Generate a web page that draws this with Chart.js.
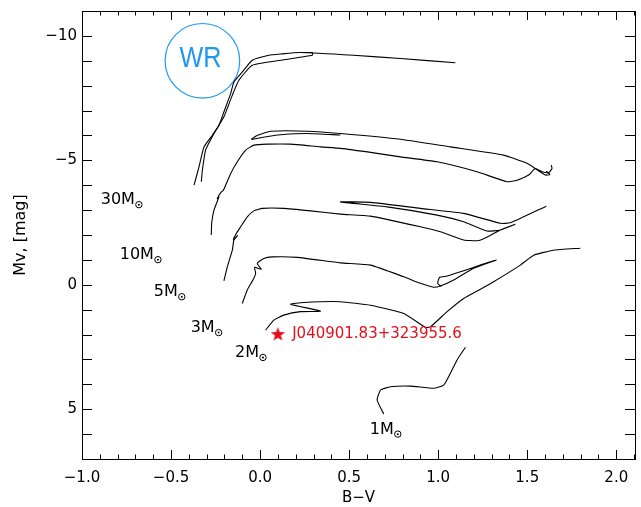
<!DOCTYPE html>
<html>
<head>
<meta charset="utf-8">
<script src="https://cdn.jsdelivr.net/npm/chart.js@4.4.0/dist/chart.umd.min.js"></script>
<style>
  html, body { margin: 0; padding: 0; background: #fff; }
</style>
</head>
<body>
<canvas id="hrChart" width="641" height="507"></canvas>
<script>
// Evolutionary tracks: B-V colour and absolute magnitude Mv
const track30aBV = [-0.371, -0.343, -0.315, -0.268, -0.231, -0.203, -0.165, -0.147, -0.100, -0.044, 0.049, 0.115, 0.227, 0.524, 0.788, 1.096];
const track30aMv = [-4.00, -4.74, -5.54, -6.01, -6.41, -6.95, -7.69, -8.15, -8.55, -9.02, -9.22, -9.27, -9.33, -9.22, -9.09, -8.92];
const track30bBV = [-0.330, -0.324, -0.306, -0.259, -0.203, -0.156, -0.119, -0.044, 0.115, 0.293, 0.294, 0.227];
const track30bMv = [-4.14, -4.61, -5.41, -6.08, -6.75, -7.62, -8.22, -8.82, -9.02, -9.22, -9.33, -9.33];

const track10aBV = [-0.274, -0.272, -0.259, -0.231, -0.241, -0.219, -0.206, -0.165, -0.128, -0.081, -0.035, 0.040, 0.171, 0.339, 0.451, 0.638, 0.788, 0.994, 1.218, 1.386, 1.443, 1.508, 1.545, 1.583, 1.620, 1.639, 1.635];
const track10aMv = [-2.00, -2.47, -3.00, -3.53, -3.46, -3.72, -3.80, -4.47, -4.94, -5.41, -5.61, -5.65, -5.65, -5.54, -5.48, -5.30, -5.14, -4.94, -4.54, -4.14, -4.20, -4.41, -4.67, -4.54, -4.50, -4.67, -4.81];
const track10bBV = [-0.049, -0.025, 0.003, 0.059, 0.265, 0.451, 0.788, 1.068, 1.367, 1.499, 1.545, 1.601, 1.627, 1.606];
const track10bMv = [-5.84, -5.97, -6.05, -6.17, -6.17, -6.08, -5.85, -5.54, -5.21, -4.88, -4.67, -4.41, -4.43, -4.57];
const track10cBV = [-0.049, 0.010, 0.100, 0.265, 0.451];
const track10cMv = [-5.84, -5.92, -6.02, -6.08, -6.02];

const track5BV = [-0.203, -0.184, -0.156, -0.147, -0.126, -0.150, -0.132, -0.109, -0.072, -0.035, 0.012, 0.133, 0.283, 0.451, 0.620, 0.900, 1.012, 1.143, 1.218, 1.255, 1.349, 1.433, 1.349, 1.274, 1.143, 0.994, 0.713, 0.451, 0.620, 0.900, 1.143, 1.349, 1.405, 1.607];
const track5Mv = [-0.16, -0.72, -1.39, -1.80, -1.98, -1.82, -2.08, -2.33, -2.73, -2.97, -3.07, -3.07, -2.97, -2.84, -2.76, -2.33, -2.13, -1.80, -1.77, -1.85, -2.20, -2.43, -2.20, -2.16, -2.53, -2.80, -3.13, -3.33, -3.31, -3.07, -2.87, -2.47, -2.49, -3.16];

const track3BV = [-0.100, -0.072, -0.035, -0.025, -0.031, 0.007, -0.016, 0.021, 0.068, 0.209, 0.451, 0.620, 0.807, 0.900, 0.975, 1.012, 1.087, 1.199, 1.325, 1.252, 1.143, 1.050, 1.008, 0.997, 1.018];
const track3Mv = [0.75, 0.21, -0.26, -0.46, -0.70, -0.62, -0.86, -1.06, -1.12, -1.10, -0.88, -0.79, -0.32, -0.06, 0.10, 0.05, -0.19, -0.66, -0.99, -0.83, -0.56, -0.35, -0.30, -0.06, 0.07];

const track2BV = [0.031, 0.077, 0.133, 0.227, 0.339, 0.171, 0.246, 0.451, 0.620, 0.807, 0.928, 0.956, 1.050, 1.143, 1.237, 1.311, 1.461, 1.536, 1.648, 1.798];
const track2Mv = [1.82, 1.42, 1.22, 1.08, 1.06, 0.78, 0.71, 0.68, 0.82, 1.15, 1.71, 1.69, 1.08, 0.55, 0.18, -0.12, -0.79, -1.19, -1.39, -1.47];

const track1BV = [0.694, 0.657, 0.676, 0.732, 0.844, 0.975, 1.031, 1.068, 1.106, 1.153];
const track1Mv = [5.19, 4.63, 4.23, 4.10, 4.07, 4.16, 4.03, 3.56, 3.02, 2.51];

// the object itself
const starName = 'J040901.83+323955.6';
const starBV = [0.10];
const starMv = [2.0];

// track labels and the Wolf-Rayet marker
const massNames = ['30', '10', '5', '3', '2', '1'];
const massLabelBV = [-0.895, -0.788, -0.597, -0.390, -0.141, 0.616];
const massLabelMv = [-3.40, -1.19, 0.30, 1.74, 2.74, 5.82];
const wrBV = [-0.324];
const wrMv = [-9.0];

const xTicks = [-1.0, -0.5, 0.0, 0.5, 1.0, 1.5, 2.0];
const yTicks = [-10, -5, 0, 5];

const RED = '#e3101c';
const BLUE = '#1e98f2';
const MINUS = '\u2212';

function zip(xs, ys) {
    return xs.map((v, i) => ({ x: v, y: ys[i] }));
}

function track(xs, ys) {
    return {
        data: zip(xs, ys),
        showLine: true,
        borderColor: '#000',
        borderWidth: 1.1,
        pointRadius: 0,
        tension: 0.15
    };
}

// filled five point star for the object
function starImage(r) {
    const c = document.createElement('canvas');
    c.width = c.height = Math.ceil(r * 2 + 2);
    const g = c.getContext('2d');
    g.translate(c.width / 2, c.height / 2);
    g.beginPath();
    for (let i = 0; i < 10; i++) {
        const rad = i % 2 === 0 ? r : r * 0.42;
        const a = -Math.PI / 2 + i * Math.PI / 5;
        g.lineTo(rad * Math.cos(a), rad * Math.sin(a));
    }
    g.closePath();
    g.fillStyle = RED;
    g.fill();
    return c;
}

// fixed axis boxes, no extra label padding
function fixBox(s, size) {
    if (s.isHorizontal()) s.height = size; else s.width = size;
    s.paddingLeft = s.paddingRight = s.paddingTop = s.paddingBottom = 0;
}

// inward ticks on all four sides, frame and text labels
const framePlugin = {
    id: 'framePlugin',
    afterDatasetsDraw(chart) {
        const { ctx, chartArea: a, scales: { x, y } } = chart;
        ctx.save();
        ctx.strokeStyle = '#000';
        ctx.lineWidth = 1;
        ctx.strokeRect(a.left + 0.5, a.top + 0.5, a.right - a.left, a.bottom - a.top);
        ctx.beginPath();
        for (let i = -10; i <= 21; i++) {
            const px = Math.round(x.getPixelForValue(i / 10)) + 0.5;
            const len = i % 5 === 0 ? 9 : 4.5;
            ctx.moveTo(px, a.bottom); ctx.lineTo(px, a.bottom - len);
            ctx.moveTo(px, a.top); ctx.lineTo(px, a.top + len);
        }
        for (let m = -11; m <= 7; m++) {
            const py = Math.round(y.getPixelForValue(m)) + 0.5;
            ctx.moveTo(a.left, py); ctx.lineTo(a.left + 10, py);
            ctx.moveTo(a.right, py); ctx.lineTo(a.right - 10, py);
        }
        ctx.stroke();

        // mass labels with solar symbol
        ctx.fillStyle = '#000';
        ctx.font = '16px "DejaVu Sans"';
        ctx.textBaseline = 'middle';
        ctx.textAlign = 'left';
        massNames.forEach((n, i) => {
            const px = x.getPixelForValue(massLabelBV[i]);
            const py = y.getPixelForValue(massLabelMv[i]);
            const t = n + 'M';
            ctx.fillText(t, px, py);
            const w = ctx.measureText(t).width;
            ctx.beginPath();
            ctx.arc(px + w + 4, py + 4.5, 3.2, 0, Math.PI * 2);
            ctx.stroke();
            ctx.beginPath();
            ctx.arc(px + w + 4, py + 4.5, 1, 0, Math.PI * 2);
            ctx.fill();
        });

        // object name
        ctx.fillStyle = RED;
        ctx.font = '15px "DejaVu Sans"';
        ctx.fillText(starName, x.getPixelForValue(starBV[0] + 0.08), y.getPixelForValue(starMv[0]));

        // WR inside its circle
        ctx.translate(x.getPixelForValue(wrBV[0]) - 2, y.getPixelForValue(wrMv[0]) - 2);
        ctx.scale(0.84, 1);
        ctx.fillStyle = BLUE;
        ctx.textAlign = 'center';
        ctx.font = '30px "Liberation Sans"';
        ctx.fillText('WR', 0, 0);
        ctx.restore();
    }
};

Chart.defaults.font.family = '"DejaVu Sans", sans-serif';
Chart.defaults.color = '#000';

const ctx = document.getElementById('hrChart').getContext('2d');
new Chart(ctx, {
    type: 'scatter',
    data: {
        datasets: [
            track(track30aBV, track30aMv),
            track(track30bBV, track30bMv),
            track(track10aBV, track10aMv),
            track(track10bBV, track10bMv),
            track(track10cBV, track10cMv),
            track(track5BV, track5Mv),
            track(track3BV, track3Mv),
            track(track2BV, track2Mv),
            track(track1BV, track1Mv),
            {
                data: zip(wrBV, wrMv),
                pointRadius: 37.3,
                pointBorderWidth: 1.2,
                pointBorderColor: BLUE,
                pointBackgroundColor: 'rgba(0,0,0,0)'
            },
            {
                data: zip(starBV, starMv),
                pointStyle: starImage(7.5)
            }
        ]
    },
    options: {
        responsive: false,
        animation: false,
        devicePixelRatio: 1,
        events: [],
        layout: { autoPadding: false, padding: { top: 11, right: 6, bottom: 0, left: 0 } },
        plugins: { legend: { display: false }, tooltip: { enabled: false } },
        scales: {
            x: {
                type: 'linear',
                min: -1.0,
                max: 2.105,
                grid: { display: false, drawTicks: false },
                border: { display: false },
                afterBuildTicks: s => { s.ticks = xTicks.map(v => ({ value: v })); },
                ticks: {
                    padding: 10,
                    maxRotation: 0,
                    font: { size: 15 },
                    callback: v => (v < 0 ? MINUS : '') + Math.abs(v).toFixed(1)
                },
                title: { display: true, text: 'B' + MINUS + 'V', font: { size: 15 }, padding: { top: 0, bottom: 0 } },
                afterFit: s => fixBox(s, 48)
            },
            y: {
                type: 'linear',
                reverse: true,
                min: -11,
                max: 7,
                grid: { display: false, drawTicks: false },
                border: { display: false },
                afterBuildTicks: s => { s.ticks = yTicks.map(v => ({ value: v })); },
                ticks: {
                    padding: 5,
                    font: { size: 15 },
                    callback: v => (v < 0 ? MINUS : '') + Math.abs(v)
                },
                title: { display: true, text: 'Mv, [mag]', font: { size: 16 }, padding: { top: 11, bottom: 0 } },
                afterFit: s => fixBox(s, 82)
            }
        }
    },
    plugins: [framePlugin]
});
</script>
</body>
</html>
